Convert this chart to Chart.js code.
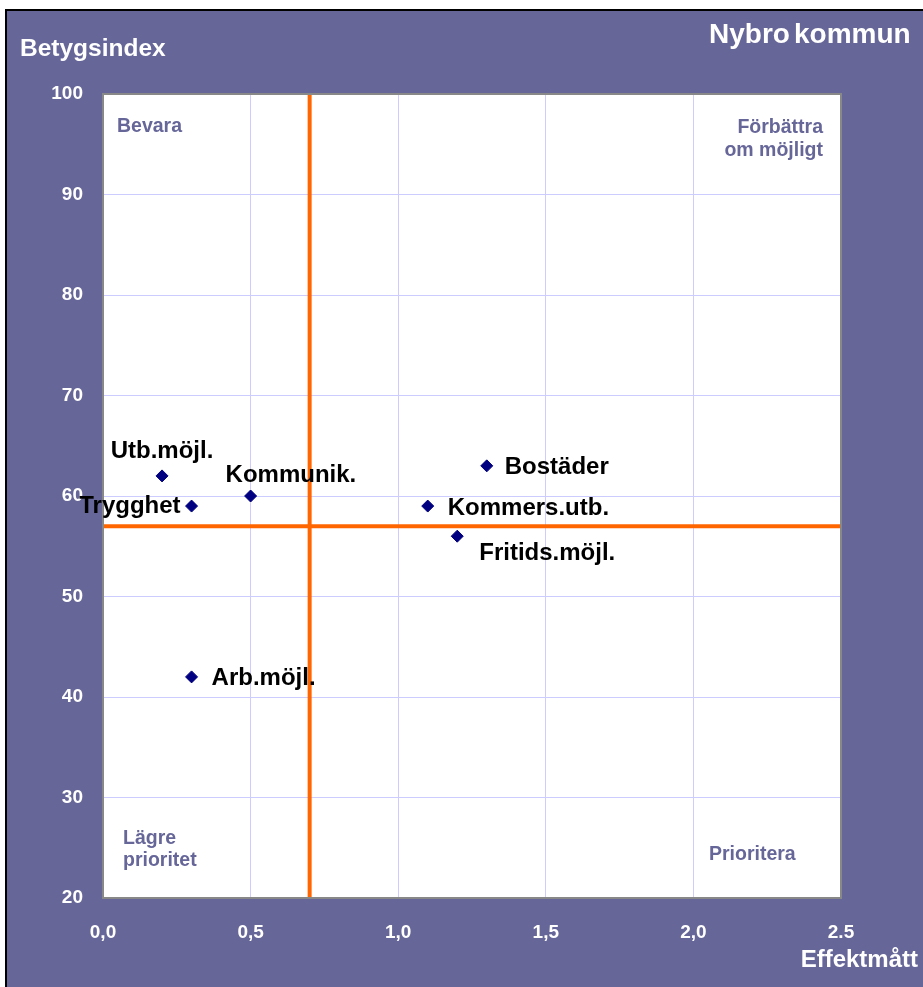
<!DOCTYPE html>
<html>
<head>
<meta charset="utf-8">
<title>Nybro kommun</title>
<script src="https://cdn.jsdelivr.net/npm/chart.js@4"></script>
<style>
    body { margin: 0; background: #fff; }
    canvas { display: block; }
</style>
</head>
<body>
<canvas id="chart" width="923" height="987"></canvas>
<script>
// Data
const names = ['Utb.möjl.', 'Trygghet', 'Kommunik.', 'Bostäder', 'Kommers.utb.', 'Fritids.möjl.', 'Arb.möjl.'];
const effekt = [0.2, 0.3, 0.5, 1.3, 1.1, 1.2, 0.3];
const betyg = [62, 59, 60, 63, 59, 56, 42];

// Quadrant split lines
const splitX = 0.7;
const splitY = 57;

// Tick labels
const xTickLabels = ['0,0', '0,5', '1,0', '1,5', '2,0', '2.5'];
const yTickLabels = ['20', '30', '40', '50', '60', '70', '80', '90', '100'];

const FONT = "'Liberation Sans', Arial, sans-serif";
const PURPLE = '#666699';

// Where each name sits relative to its point: [dx, dy, align]
const labelPlace = {
    'Utb.möjl.': [0, -25, 'center'],
    'Trygghet': [-11, 0, 'right'],
    'Kommunik.': [-25, -21, 'left'],
    'Bostäder': [18, 2, 'left'],
    'Kommers.utb.': [20, 2, 'left'],
    'Fritids.möjl.': [22, 17, 'left'],
    'Arb.möjl.': [20, 1, 'left']
};

const framePlugin = {
    id: 'frame',
    beforeDraw(chart) {
        const ctx = chart.ctx;
        const a = chart.chartArea;
        ctx.save();
        ctx.fillStyle = '#ffffff';
        ctx.fillRect(0, 0, chart.width, chart.height);
        ctx.fillStyle = PURPLE;
        ctx.fillRect(7, 11, chart.width - 7, chart.height - 11);
        // black outer edge, top and left
        ctx.strokeStyle = '#000000';
        ctx.lineWidth = 2;
        ctx.beginPath();
        ctx.moveTo(6, chart.height);
        ctx.lineTo(6, 10);
        ctx.lineTo(chart.width, 10);
        ctx.stroke();
        // white plot area
        ctx.fillStyle = '#ffffff';
        ctx.fillRect(a.left, a.top, a.right - a.left, a.bottom - a.top);
        ctx.restore();
    },
    afterDraw(chart) {
        const ctx = chart.ctx;
        const a = chart.chartArea;
        ctx.save();

        // plot border
        ctx.strokeStyle = '#888888';
        ctx.lineWidth = 2;
        ctx.strokeRect(a.left, a.top, a.right - a.left, a.bottom - a.top);

        // titles
        ctx.fillStyle = '#ffffff';
        ctx.textBaseline = 'alphabetic';
        ctx.textAlign = 'left';
        ctx.font = 'bold 24.5px ' + FONT;
        ctx.fillText('Betygsindex', 20, 56);
        ctx.font = 'bold 28px ' + FONT;
        ctx.fillText('Nybro', 709, 43);
        ctx.fillText('kommun', 794, 43);
        ctx.textAlign = 'right';
        ctx.font = 'bold 24px ' + FONT;
        ctx.fillText('Effektmått', 918, 967);

        // quadrant names
        ctx.fillStyle = PURPLE;
        ctx.font = 'bold 19.5px ' + FONT;
        ctx.textBaseline = 'middle';
        ctx.textAlign = 'left';
        ctx.fillText('Bevara', a.left + 14, a.top + 33);
        ctx.fillText('Lägre', a.left + 20, a.bottom - 59);
        ctx.fillText('prioritet', a.left + 20, a.bottom - 37);
        ctx.fillText('Prioritera', a.right - 132, a.bottom - 43);
        ctx.textAlign = 'right';
        ctx.fillText('Förbättra', a.right - 18, a.top + 34);
        ctx.fillText('om möjligt', a.right - 18, a.top + 57);

        // point names
        const meta = chart.getDatasetMeta(0);
        ctx.fillStyle = '#000000';
        ctx.font = 'bold 24px ' + FONT;
        meta.data.forEach(function (pt, i) {
            const p = labelPlace[names[i]];
            ctx.textAlign = p[2];
            ctx.fillText(names[i], pt.x + p[0], pt.y + p[1]);
        });
        ctx.restore();
    }
};

const tickFont = { family: FONT, size: 19, weight: 'bold' };

new Chart(document.getElementById('chart'), {
    type: 'scatter',
    data: {
        datasets: [
            {
                data: effekt.map((x, i) => ({ x: x, y: betyg[i] })),
                pointStyle: 'rectRot',
                pointRadius: 6,
                backgroundColor: '#000080',
                borderColor: '#000080',
                borderWidth: 1
            },
            {
                data: [{ x: splitX, y: 20 }, { x: splitX, y: 100 }],
                showLine: true,
                pointRadius: 0,
                borderColor: '#ff6600',
                borderWidth: 4
            },
            {
                data: [{ x: 0, y: splitY }, { x: 2.5, y: splitY }],
                showLine: true,
                pointRadius: 0,
                borderColor: '#ff6600',
                borderWidth: 4
            }
        ]
    },
    options: {
        responsive: false,
        animation: false,
        devicePixelRatio: 1,
        layout: { padding: { left: 8, top: 94, right: 82, bottom: 0 } },
        plugins: {
            legend: { display: false },
            title: { display: false },
            tooltip: { enabled: false }
        },
        scales: {
            x: {
                type: 'linear',
                min: 0,
                max: 2.5,
                afterFit(scale) { scale.height = 89; },
                grid: { color: '#ccccff', lineWidth: 1, drawTicks: false },
                border: { display: false },
                ticks: {
                    stepSize: 0.5,
                    padding: 23,
                    color: '#ffffff',
                    font: tickFont,
                    callback: function (v, i) { return xTickLabels[i]; }
                }
            },
            y: {
                type: 'linear',
                min: 20,
                max: 100,
                afterFit(scale) { scale.width = 95; },
                grid: { color: '#ccccff', lineWidth: 1, drawTicks: false },
                border: { display: false },
                ticks: {
                    stepSize: 10,
                    padding: 20,
                    color: '#ffffff',
                    font: tickFont,
                    callback: function (v, i) { return yTickLabels[i]; }
                }
            }
        }
    },
    plugins: [framePlugin]
});
</script>
</body>
</html>
